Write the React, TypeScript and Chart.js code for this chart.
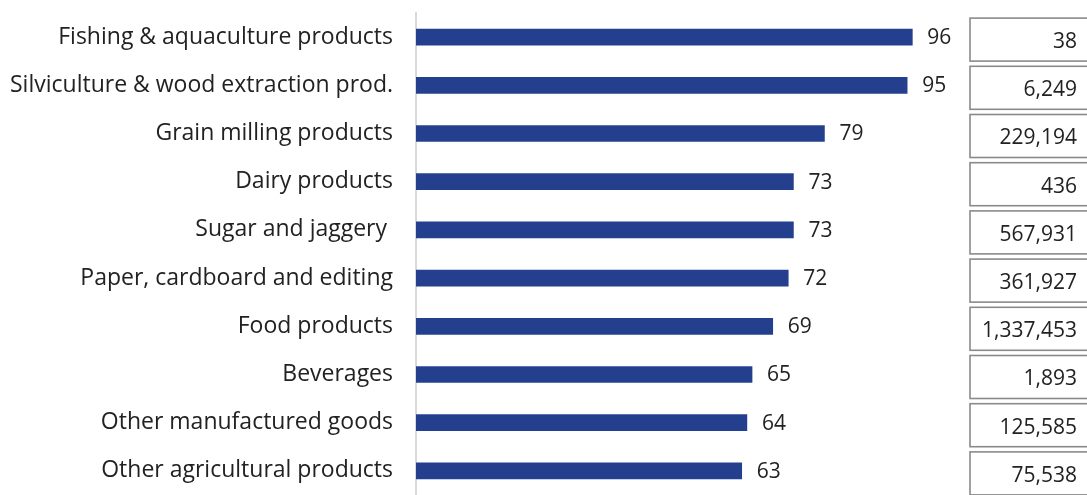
import React, { useEffect, useRef } from "react";
import { Chart, registerables } from "chart.js";

Chart.register(...registerables);

const categories = [
  "Fishing & aquaculture products",
  "Silviculture & wood extraction prod.",
  "Grain milling products",
  "Dairy products",
  "Sugar and jaggery ",
  "Paper, cardboard and editing",
  "Food products",
  "Beverages",
  "Other manufactured goods",
  "Other agricultural products",
];
const scores = [96, 95, 79, 73, 73, 72, 69, 65, 64, 63];
const counts = [38, 6249, 229194, 436, 567931, 361927, 1337453, 1893, 125585, 75538];

const FONT = "'Open Sans', 'Noto Sans', sans-serif";

const overlay = {
  id: "overlay",
  afterDatasetsDraw(chart: any) {
    const ctx = chart.ctx;
    const meta = chart.getDatasetMeta(0);
    const y = chart.scales.y;
    ctx.save();
    ctx.font = `21px ${FONT}`;
    ctx.textBaseline = "middle";
    meta.data.forEach((bar: any, i: number) => {
      ctx.fillStyle = "#222222";
      ctx.textAlign = "left";
      ctx.fillText(String(scores[i]), bar.x + 15, bar.y + 1);
      const cy = y.getPixelForValue(i);
      ctx.strokeStyle = "#8a8a8a";
      ctx.lineWidth = 1.6;
      ctx.strokeRect(970, cy - 19, 140, 43);
      ctx.textAlign = "right";
      ctx.fillText(counts[i].toLocaleString("en-US"), 1077, cy + 5);
    });
    ctx.restore();
  },
};

export default function App() {
  const ref = useRef<HTMLCanvasElement>(null);
  useEffect(() => {
    document.body.style.margin = "0";
    const chart = new Chart(ref.current!, {
      type: "bar",
      data: {
        labels: categories,
        datasets: [
          {
            data: scores,
            backgroundColor: "#243f8e",
            borderWidth: 0,
            barThickness: 16,
          },
        ],
      },
      options: {
        indexAxis: "y",
        animation: false,
        responsive: false,
        devicePixelRatio: 1,
        layout: { autoPadding: false, padding: { top: 13, right: 154, bottom: 0, left: 0 } },
        plugins: { legend: { display: false }, tooltip: { enabled: false } },
        scales: {
          x: { display: false, min: 0, max: 100 },
          y: {
            grid: { display: false, drawTicks: false },
            border: { display: true, color: "#d9d9d9", width: 2 },
            ticks: {
              color: "#222222",
              font: { size: 23, family: FONT },
              padding: 23,
            },
            afterFit(scale: any) {
              scale.width = 416;
              scale.paddingTop = 0;
              scale.paddingBottom = 0;
            },
          },
        },
      },
      plugins: [overlay],
    });
    return () => chart.destroy();
  }, []);
  return (
    <div style={{ width: 1087, height: 495, background: "#fff" }}>
      <canvas ref={ref} width={1087} height={495} style={{ display: "block" }} />
    </div>
  );
}
